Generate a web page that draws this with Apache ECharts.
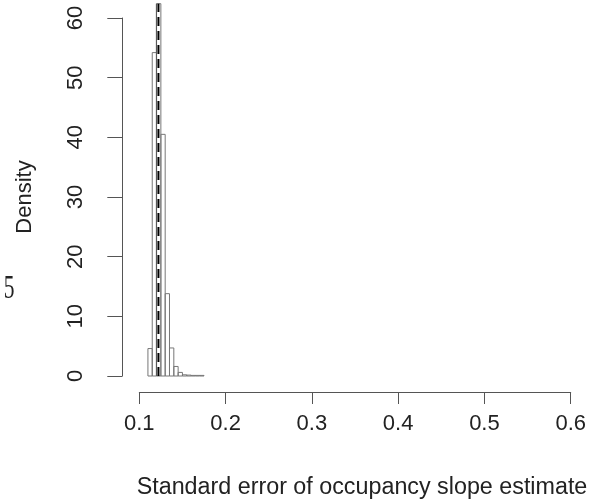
<!DOCTYPE html>
<html>
<head>
<meta charset="utf-8">
<script src="https://cdn.jsdelivr.net/npm/echarts@6/dist/echarts.min.js"></script>
<style>
html, body { margin: 0; padding: 0; background: #fff; }
#main { width: 589px; height: 501px; }
</style>
</head>
<body>
<div id="main"></div>
<script>
// ==============================
// data
// ==============================

// histogram bin edges (standard error)
const binEdges = [
    0.110, 0.115, 0.120, 0.125, 0.130, 0.135, 0.140,
    0.145, 0.150, 0.155, 0.160, 0.165, 0.170, 0.175
];

// density for each bin
const densities = [
    4.6, 54.2, 79.3, 40.5, 13.8, 4.7, 1.6,
    0.6, 0.2, 0.15, 0.1, 0.1, 0.1
];

// reference lines
const solidLineX = 0.1198;
const dashedLineX = 0.1222;

const xTicks = [0.1, 0.2, 0.3, 0.4, 0.5, 0.6];
const yTicks = [0, 10, 20, 30, 40, 50, 60];

const xTitle = 'Standard error of occupancy slope estimate';
const yTitle = 'Density';

// top of the R plot region (ylim + 4%)
const yTop = 62.4;


// ==============================
// chart
// ==============================

var myChart = echarts.init(
    document.getElementById('main'),
    null,
    { renderer: 'canvas' }
);

const fontFamily = 'Liberation Sans, Arial, sans-serif';
const axisColor = '#555';

const bins = densities.map((d, i) => [binEdges[i], binEdges[i + 1], d]);

myChart.setOption({

    backgroundColor: '#fff',
    animation: false,

    grid: {
        left: 139.3,
        right: 16.3,
        top: 18,
        bottom: 125
    },

    xAxis: {
        type: 'value',
        min: xTicks[0],
        max: xTicks[xTicks.length - 1],
        interval: 0.1,
        offset: 16,
        axisLine: { onZero: false, lineStyle: { color: axisColor, width: 1 } },
        axisTick: { length: 12, lineStyle: { color: axisColor } },
        axisLabel: {
            fontSize: 22,
            fontFamily: fontFamily,
            color: '#222',
            margin: 21,
            showMinLabel: true,
            showMaxLabel: true,
            formatter: v => v.toFixed(1)
        },
        splitLine: { show: false }
    },

    yAxis: {
        type: 'value',
        min: yTicks[0],
        max: yTicks[yTicks.length - 1],
        interval: 10,
        offset: 17,
        axisLine: { show: true, onZero: false, lineStyle: { color: axisColor, width: 1 } },
        axisTick: { show: true, length: 15, lineStyle: { color: axisColor } },
        axisLabel: {
            rotate: 90,
            fontSize: 22,
            fontFamily: fontFamily,
            color: '#222',
            margin: 35
        },
        splitLine: { show: false }
    },

    series: [

        // histogram bars
        {
            type: 'custom',
            clip: false,
            data: bins,
            renderItem: function (params, api) {
                const x0 = api.value(0);
                const x1 = api.value(1);
                const d = Math.min(api.value(2), yTop);
                const p0 = api.coord([x0, 0]);
                const p1 = api.coord([x1, d]);
                return {
                    type: 'rect',
                    shape: {
                        x: p0[0],
                        y: p1[1],
                        width: p1[0] - p0[0],
                        height: p0[1] - p1[1]
                    },
                    style: {
                        fill: 'none',
                        stroke: '#777',
                        lineWidth: 1
                    }
                };
            }
        },

        // vertical reference lines
        {
            type: 'custom',
            clip: false,
            data: [[solidLineX, 0], [dashedLineX, 1]],
            renderItem: function (params, api) {
                const x = api.value(0);
                const dashed = api.value(1) === 1;
                const pb = api.coord([x, 0]);
                const pt = api.coord([x, yTop]);
                return {
                    type: 'line',
                    shape: { x1: pb[0], y1: pb[1], x2: pt[0], y2: pt[1] },
                    style: dashed
                        ? { stroke: '#000', lineWidth: 2, lineDash: [9, 5] }
                        : { stroke: '#555', lineWidth: 1 }
                };
            }
        }

    ],

    graphic: [
        {
            type: 'text',
            x: 362,
            y: 488,
            style: {
                text: xTitle,
                fontSize: 23.3,
                fontFamily: fontFamily,
                fill: '#222',
                align: 'center',
                verticalAlign: 'middle'
            }
        },
        {
            type: 'text',
            x: 25,
            y: 197,
            rotation: Math.PI / 2,
            style: {
                text: yTitle,
                fontSize: 22,
                fontFamily: fontFamily,
                fill: '#222',
                align: 'center',
                verticalAlign: 'middle'
            }
        },
        {
            type: 'text',
            x: 9,
            y: 289,
            scaleX: 0.65,
            style: {
                text: '5',
                fontSize: 33,
                fontFamily: 'Liberation Serif, DejaVu Serif, serif',
                fill: '#222',
                align: 'center',
                verticalAlign: 'middle'
            }
        }
    ]

});
</script>
</body>
</html>
